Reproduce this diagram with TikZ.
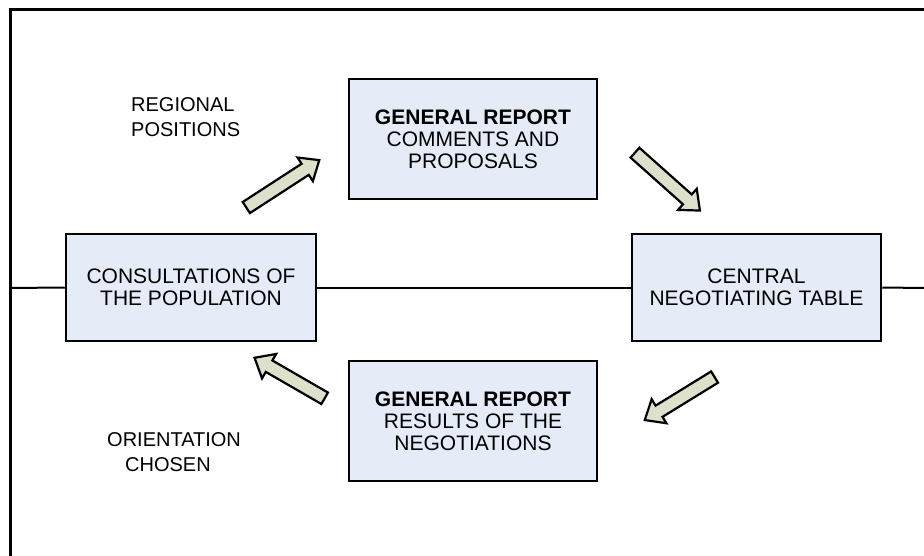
\documentclass[tikz,border=0pt]{standalone}
\usepackage{fontspec}
\setmainfont{Liberation Sans}
\usetikzlibrary{shapes.arrows}
\definecolor{boxfill}{HTML}{E6ECF7}
\definecolor{arrowfill}{HTML}{DDE0CB}
\tikzset{
  blockbox/.style={draw=black, line width=2.5pt, fill=boxfill, align=center,
    font=\fontsize{21}{22}\selectfont, inner sep=0pt},
  blockarrow/.style={single arrow, draw=black, line width=2.2pt, fill=arrowfill,
    inner xsep=0pt, inner ysep=5.5pt, single arrow head extend=7.5pt,
    single arrow tip angle=80, anchor=center},
  sidelabel/.style={align=left, inner sep=0pt, anchor=north west,
    font=\fontsize{20}{25}\selectfont},
  frameline/.style={line width=3pt},
  linkline/.style={line width=2pt}
}
\begin{document}
\begin{tikzpicture}[x=1pt,y=-1pt]
\useasboundingbox (0,0) rectangle (924,556);
% frame
\draw[frameline] (10,556) -- (10,10) -- (924,10);
% boxes
\node[blockbox, minimum width=250pt, minimum height=107pt] (cons) at (191,287.5)
  {CONSULTATIONS OF\\THE POPULATION};
\node[blockbox, minimum width=249pt, minimum height=107pt] (table) at (756.5,287.5)
  {CENTRAL\\NEGOTIATING TABLE};
\node[blockbox, minimum width=248pt, minimum height=120pt] (grtop) at (473,139)
  {\textbf{GENERAL REPORT}\\COMMENTS AND\\PROPOSALS};
\node[blockbox, minimum width=248pt, minimum height=120pt] (grbot) at (473,421)
  {\textbf{GENERAL REPORT}\\RESULTS OF THE\\NEGOTIATIONS};
% horizontal line
\coordinate (lft) at (10,288);
\coordinate (rgt) at (924,288);
\draw[linkline] (lft) -- (cons.west);
\draw[linkline] (cons.east) -- (table.west);
\draw[linkline] (table.east) -- (rgt);
% block arrows
\node[blockarrow, minimum height=87pt, rotate=33] (a1) at (279.5,186) {};
\node[blockarrow, minimum height=87pt, rotate=-41.7] (a2) at (664.5,179) {};
\node[blockarrow, minimum height=81pt, rotate=150] (a3) at (293,380) {};
\node[blockarrow, minimum height=82pt, rotate=211.6] (a4) at (683,396.5) {};
% labels
\node[sidelabel] (lreg) at (131,97) {REGIONAL\\POSITIONS};
\node[sidelabel] (lori) at (107,432) {ORIENTATION\\\hspace*{18pt}CHOSEN};
\end{tikzpicture}
\end{document}
